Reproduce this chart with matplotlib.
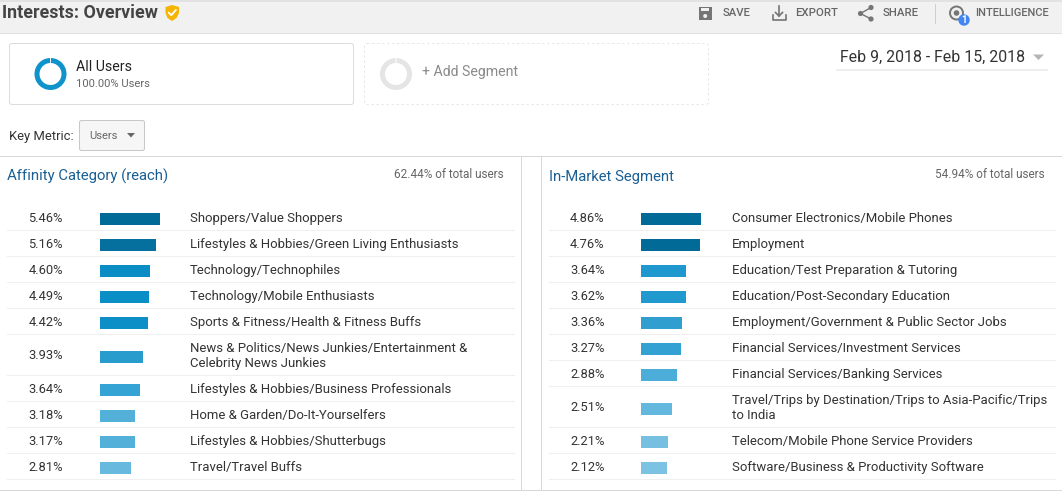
import matplotlib
matplotlib.use("Agg")
import matplotlib.pyplot as plt
from matplotlib.patches import Rectangle, FancyBboxPatch, Polygon, Circle, Wedge

plt.rcParams['font.family'] = ['Roboto', 'DejaVu Sans']

# Left table
affinity_labels = ["Shoppers/Value Shoppers",
                   "Lifestyles & Hobbies/Green Living Enthusiasts",
                   "Technology/Technophiles",
                   "Technology/Mobile Enthusiasts",
                   "Sports & Fitness/Health & Fitness Buffs",
                   "News & Politics/News Junkies/Entertainment &\nCelebrity News Junkies",
                   "Lifestyles & Hobbies/Business Professionals",
                   "Home & Garden/Do-It-Yourselfers",
                   "Lifestyles & Hobbies/Shutterbugs",
                   "Travel/Travel Buffs"]
affinity_values = [5.46, 5.16, 4.60, 4.49, 4.42, 3.93, 3.64, 3.18, 3.17, 2.81]
affinity_colors = ["#026a96", "#05709e", "#0a8cc4", "#0a8ec6", "#0c8fc7",
                   "#289dcd", "#35a3d3", "#52b0d9", "#52b0d9", "#67b9de"]

# Right table
market_labels = ["Consumer Electronics/Mobile Phones",
                 "Employment",
                 "Education/Test Preparation & Tutoring",
                 "Education/Post-Secondary Education",
                 "Employment/Government & Public Sector Jobs",
                 "Financial Services/Investment Services",
                 "Financial Services/Banking Services",
                 "Travel/Trips by Destination/Trips to Asia-Pacific/Trips\nto India",
                 "Telecom/Mobile Phone Service Providers",
                 "Software/Business & Productivity Software"]
market_values = [4.86, 4.76, 3.64, 3.62, 3.36, 3.27, 2.88, 2.51, 2.21, 2.12]
market_colors = ["#026a96", "#026a96", "#1f98cf", "#2099cf", "#309fd0",
                 "#33a2d3", "#4cadd8", "#65b8dd", "#76bfe0", "#7cc2e2"]

W, H = 1062, 495
fig = plt.figure(figsize=(W / 100, H / 100), dpi=100, facecolor="white")

# whole figure in pixel coordinates
ax = fig.add_axes([0, 0, 1, 1])
ax.set_xlim(0, W)
ax.set_ylim(H, 0)
ax.axis("off")

TEXT = "#333333"
GREY = "#666666"
BORDER = "#d8d8d8"
PX = 0.72  # one pixel line

# header strip
ax.add_patch(Rectangle((0, 0), W, 33.5, fc="#f1f1f1", ec="none"))
ax.add_patch(Rectangle((0, 0), W, 1.5, fc="#e2e2e2", ec="none"))
ax.plot([0, W], [33, 33], color="#e0e0e0", lw=PX)
ax.text(2, 12.5, "Interests: Overview", fontsize=12.88, fontweight="bold", color="#444444", va="center")

# shield icon
ax.add_patch(Polygon([(165.5, 7), (172, 5), (179, 7), (179, 13), (176.5, 18), (172, 21), (167.5, 18), (165.5, 13)],
                     fc="#f4b400", ec="none"))
ax.plot([168.8, 171.3, 175.8], [12.8, 15.2, 10], color="white", lw=1.3)

# toolbar
ax.add_patch(Rectangle((698.5, 7), 13.5, 13, fc="#757575", ec="none"))
ax.add_patch(Rectangle((701, 7.5), 7.5, 3.5, fc="#f1f1f1", ec="none"))
ax.add_patch(Circle((705.2, 16), 2, fc="#f1f1f1", ec="none"))
ax.text(722.5, 13.5, "SAVE", fontsize=8.1, fontweight="medium", color=GREY, va="center")

ax.plot([772.5, 772.5, 785.5, 785.5], [14.5, 19.5, 19.5, 14.5], color="#757575", lw=1.2)
ax.plot([779, 779], [6, 16], color="#757575", lw=1.2)
ax.plot([775.5, 779, 782.5], [12.5, 16, 12.5], color="#757575", lw=1.2)
ax.text(795.5, 13.5, "EXPORT", fontsize=8.2, fontweight="medium", color=GREY, va="center")

ax.plot([871, 860.5, 871], [7.5, 13.5, 19], color="#757575", lw=1)
for x, y in [(871, 7.5), (860.5, 13.5), (871, 19)]:
    ax.add_patch(Circle((x, y), 2.6, fc="#757575", ec="none"))
ax.text(883, 13.5, "SHARE", fontsize=8.2, fontweight="medium", color=GREY, va="center")

ax.plot([934.5, 934.5], [3.5, 23], color="#cfcfcf", lw=PX)
ax.add_patch(Circle((956.5, 13), 6.5, fc="none", ec="#757575", lw=1.4))
ax.add_patch(Circle((956.5, 13), 2.8, fc="#757575", ec="none"))
ax.add_patch(Circle((964, 20), 5.7, fc="#4285f4", ec="none"))
ax.text(964, 20.3, "1", fontsize=7, fontweight="bold", color="white", ha="center", va="center")
ax.text(975, 13.5, "INTELLIGENCE", fontsize=8.05, fontweight="medium", color=GREY, va="center")

# segment cards
ax.add_patch(FancyBboxPatch((9.5, 43.5), 344, 61, boxstyle="round,pad=0,rounding_size=2.5",
                            fc="white", ec="#dcdcdc", lw=PX))
ax.add_patch(FancyBboxPatch((364.5, 43.5), 344, 61, boxstyle="round,pad=0,rounding_size=2.5",
                            fc="white", ec="#e8e8e8", lw=PX, ls=(0, (2.5, 2.5))))
# rings have a small gap at the top (y axis is flipped, so -88 to -92 is the top)
ax.add_patch(Wedge((50.5, 74), 16, -88, 268, width=5, fc="#0e93cb", ec="none"))
ax.add_patch(Wedge((396, 74), 16, -88, 268, width=5, fc="#e5e5e5", ec="none"))
ax.text(76, 67, "All Users", fontsize=10.2, color="#222222", va="center")
ax.text(76, 84, "100.00% Users", fontsize=8.15, color=GREY, va="center")
ax.text(422, 72, "+ Add Segment", fontsize=10.2, color="#8a8a8a", va="center")

# date range
ax.text(840.5, 57, "Feb 9, 2018 - Feb 15, 2018", fontsize=11.45, color="#333333", va="center")
ax.add_patch(Polygon([(1033, 54.5), (1044, 54.5), (1038.5, 60)], fc="#b5b5b5", ec="none"))
ax.plot([837, 1047], [70, 70], color="#ebebeb", lw=1.2)

# key metric
ax.text(9, 136.5, "Key Metric:", fontsize=9.4, color=TEXT, va="center")
ax.add_patch(FancyBboxPatch((79.5, 120.5), 65, 30, boxstyle="round,pad=0,rounding_size=2",
                            fc="#f6f6f6", ec="#c8c8c8", lw=PX))
ax.text(89.5, 136, "Users", fontsize=8, color=GREY, va="center")
ax.add_patch(Polygon([(127, 133), (135, 133), (131, 137.5)], fc="#666666", ec="none"))

# panel frame
ax.plot([0, W], [155.9, 155.9], color=BORDER, lw=PX)
ax.plot([0, W], [489.9, 489.9], color=BORDER, lw=PX)
ax.plot([520.9, 520.9], [156, 490], color=BORDER, lw=PX)
ax.plot([540.9, 540.9], [156, 490], color=BORDER, lw=PX)


def draw_table(labels, values, colors, title, total, x0, x_title, x_val, bar_x, bar_w, x_lab, x_end, x_total):
    ax.text(x_title, 176.5, title, fontsize=10.75, color="#1a5f93", va="center")
    ax.text(x_total, 174, total, fontsize=8.45, color=GREY, va="center", ha="right")
    # bars get their own axes so the value scale sets the length
    bar_ax = fig.add_axes([bar_x / W, 0, bar_w / W, 1])
    bar_ax.set_xlim(0, values[0])
    bar_ax.set_ylim(H, 0)
    bar_ax.axis("off")
    bar_ax.patch.set_alpha(0)
    y = 204
    for label, value, color in zip(labels, values, colors):
        row_h = 41 if "\n" in label else 26
        mid = y + row_h / 2
        bar_ax.barh(mid + 2, value, height=12, color=color, align="center")
        ax.text(x_val, mid + 1.3, "%.2f%%" % value, fontsize=9.3, color=TEXT, va="center", ha="left")
        ax.text(x_lab, mid + 1.3, label, fontsize=9.47, color=TEXT, va="center", linespacing=1.22)
        y += row_h
        ax.plot([x0, x_end], [y + 0.4, y + 0.4], color="#efefef", lw=PX)


draw_table(affinity_labels, affinity_values, affinity_colors, "Affinity Category (reach)",
           "62.44% of total users", 7, 7, 28.5, 100, 59.5, 190, 513.5, 504)
draw_table(market_labels, market_values, market_colors, "In-Market Segment",
           "54.94% of total users", 549, 549, 570, 641, 60, 732, 1054.5, 1045)

fig.savefig("out.png", dpi=100)
